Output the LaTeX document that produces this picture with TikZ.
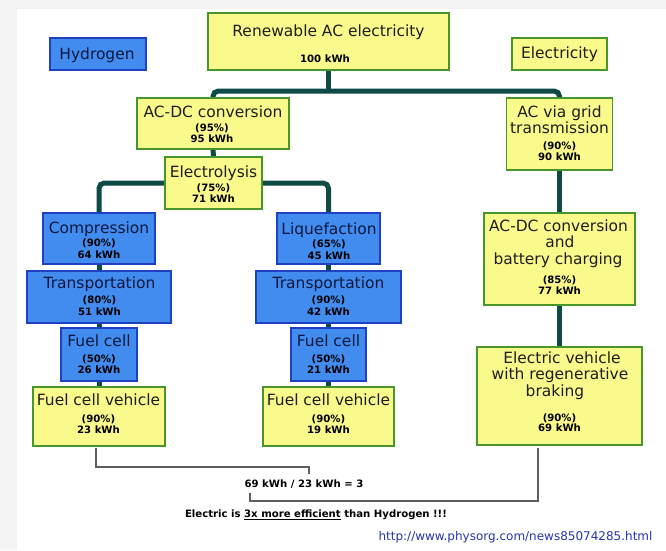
\documentclass[tikz,border=0pt]{standalone}
\usepackage{fontspec}
\setmainfont{DejaVu Sans}
\usetikzlibrary{fit}
\pgfdeclarelayer{background}
\pgfsetlayers{background,main}
\definecolor{bggray}{RGB}{243,243,243}
\definecolor{boxyellow}{RGB}{250,250,140}
\definecolor{boxgreen}{RGB}{72,150,42}
\definecolor{boxblue}{RGB}{66,140,240}
\definecolor{boxblueline}{RGB}{32,64,196}
\definecolor{conncol}{RGB}{14,74,70}
\definecolor{brackcol}{RGB}{95,95,95}
\definecolor{ytext}{RGB}{30,30,30}
\definecolor{btext}{RGB}{14,24,62}
\definecolor{urlcol}{RGB}{40,52,172}
\newcommand\myul[1]{\setbox0\hbox{#1}\rlap{\rule[-1.9pt]{\wd0}{1.0pt}}\box0\relax}
\begin{document}
\begin{tikzpicture}[x=0.75pt,y=-0.75pt,
  ybox/.style={draw=boxgreen, fill=boxyellow, line width=1.4pt, inner sep=0pt},
  bbox/.style={draw=boxblueline, fill=boxblue, line width=1.4pt, inner sep=0pt},
  ttl/.style={anchor=base, inner sep=0pt, font=\fontsize{11.6}{14}\selectfont, text=ytext},
  bttl/.style={ttl, text=btext},
  num/.style={anchor=base, inner sep=0pt, font=\fontsize{7.6}{9}\selectfont\bfseries, text=black},
  conn/.style={draw=conncol, line width=3.75pt},
  brack/.style={draw=brackcol, line width=1pt}]
\begin{pgfonlayer}{background}
  \fill[bggray] (0,0) rectangle (666,550);
  \fill[white] (17,9) rectangle (666,550);
\end{pgfonlayer}
\useasboundingbox (0,0) rectangle (666,550);

% legend boxes
\node[bbox, fit={(50,38) (146,70)}] (hyd) {};
\node[bttl] (thyd) at (97,59.5) {Hydrogen};
\node[ybox, fit={(512,38) (607,70)}] (elec) {};
\node[ttl] (telec) at (559.5,58.5) {Electricity};

% top
\node[ybox, fit={(208,13) (449,70)}] (ren) {};
\node[ttl] (tren) at (328.5,36.5) {Renewable AC electricity};
\node[num] (nren) at (325,62.5) {100 kWh};

% hydrogen branch
\node[ybox, fit={(137,98) (289,149)}] (acdc) {};
\node[ttl] (tacdc) at (213,117.5) {AC-DC conversion};
\node[num] (pacdc) at (212,131.5) {(95\%)};
\node[num] (nacdc) at (212,142.5) {95 kWh};

\node[ybox, fit={(165,157) (262,209)}] (elys) {};
\node[ttl] (telys) at (213.5,177.5) {Electrolysis};
\node[num] (pelys) at (213.5,191.5) {(75\%)};
\node[num] (nelys) at (213.5,202.5) {71 kWh};

\node[bbox, fit={(43,213) (155,264)}] (comp) {};
\node[bttl] (tcomp) at (99,233.5) {Compression};
\node[num] (pcomp) at (99,246.5) {(90\%)};
\node[num] (ncomp) at (99,258.5) {64 kWh};

\node[bbox, fit={(277,213) (380,264)}] (liq) {};
\node[bttl] (tliq) at (329,234.5) {Liquefaction};
\node[num] (pliq) at (329,247.5) {(65\%)};
\node[num] (nliq) at (329,259.5) {45 kWh};

\node[bbox, fit={(27,271) (171,323)}] (trl) {};
\node[bttl] (ttrl) at (99.5,288.5) {Transportation};
\node[num] (ptrl) at (99.5,303.5) {(80\%)};
\node[num] (ntrl) at (99.5,315.5) {51 kWh};

\node[bbox, fit={(256,271) (401,323)}] (trr) {};
\node[bttl] (ttrr) at (328.5,288.5) {Transportation};
\node[num] (ptrr) at (328.5,303.5) {(90\%)};
\node[num] (ntrr) at (328.5,315.5) {42 kWh};

\node[bbox, fit={(61,328) (137,381)}] (fcl) {};
\node[bttl] (tfcl) at (99,346.5) {Fuel cell};
\node[num] (pfcl) at (99,362.5) {(50\%)};
\node[num] (nfcl) at (99,373.5) {26 kWh};

\node[bbox, fit={(291,328) (366,381)}] (fcr) {};
\node[bttl] (tfcr) at (328.5,346.5) {Fuel cell};
\node[num] (pfcr) at (328.5,362.5) {(50\%)};
\node[num] (nfcr) at (328.5,373.5) {21 kWh};

\node[ybox, fit={(33,387) (165,446)}] (fvl) {};
\node[ttl] (tfvl) at (98.5,405.5) {Fuel cell vehicle};
\node[num] (pfvl) at (98.5,422.5) {(90\%)};
\node[num] (nfvl) at (98.5,433.5) {23 kWh};

\node[ybox, fit={(263,387) (394,446)}] (fvr) {};
\node[ttl] (tfvr) at (328.5,405.5) {Fuel cell vehicle};
\node[num] (pfvr) at (328.5,422.5) {(90\%)};
\node[num] (nfvr) at (328.5,433.5) {19 kWh};

% electricity branch
\node[ybox, fit={(506.5,98) (612.5,170)}] (grid) {};
\node[ttl] (tgrid1) at (559.5,117.5) {AC via grid};
\node[ttl] (tgrid2) at (559.5,133.5) {transmission};
\node[num] (pgrid) at (559.5,149.5) {(90\%)};
\node[num] (ngrid) at (559.5,160.5) {90 kWh};

\node[ybox, fit={(484,213) (635,305)}] (batt) {};
\node[ttl] (tbatt1) at (558.5,231.5) {AC-DC conversion};
\node[ttl] (tbatt2) at (560,247.5) {and};
\node[ttl] (tbatt3) at (558,264.5) {battery charging};
\node[num] (pbatt) at (559.5,283.5) {(85\%)};
\node[num] (nbatt) at (559.5,294.5) {77 kWh};

\node[ybox, fit={(477,347) (642,445)}] (ev) {};
\node[ttl] (tev1) at (562,363.5) {Electric vehicle};
\node[ttl] (tev2) at (560,379.5) {with regenerative};
\node[ttl] (tev3) at (555,396.5) {braking};
\node[num] (pev) at (559.5,421.5) {(90\%)};
\node[num] (nev) at (559.5,431.5) {69 kWh};

% junctions
\coordinate (j1) at (328.5,91);
\coordinate (j2) at (213,183);

\begin{pgfonlayer}{background}
  \draw[conn] (ren.south) -- (j1);
  \draw[conn, rounded corners=4pt] (acdc.north) |- (j1) -| (grid.north);
  \draw[conn] (acdc.south) -- (elys.north);
  \draw[conn, rounded corners=4pt] (comp.north) |- (j2) -| (liq.north);
  \draw[conn] (comp.south) -- (trl.north);
  \draw[conn] (trl.south) -- (fcl.north);
  \draw[conn] (fcl.south) -- (fvl.north);
  \draw[conn] (liq.south) -- (trr.north);
  \draw[conn] (trr.south) -- (fcr.north);
  \draw[conn] (fcr.south) -- (fvr.north);
  \draw[conn] (grid.south) -- (batt.north);
  \draw[conn] (batt.south) -- (ev.north);
\end{pgfonlayer}

% comparison
\node[num] (eq) at (304,487) {69 kWh / 23 kWh = 3};
\coordinate (lb) at (96,448);
\coordinate (lk) at (309,467);
\coordinate (lt) at (309,474);
\draw[brack] (lb) |- (lk) -- (lt);
\coordinate (rk) at (250,493);
\coordinate (rc) at (538,501);
\coordinate (rb) at (538,448);
\draw[brack] (rk) |- (rc) -- (rb);

\node[num] (concl) at (316,517.5) {Electric is \myul{3x more efficient} than Hydrogen !!!};
\node[anchor=base, inner sep=0pt, font=\fontsize{9}{11}\selectfont, text=urlcol] (url) at (515.5,540.5) {http://www.physorg.com/news85074285.html};
\end{tikzpicture}
\end{document}
